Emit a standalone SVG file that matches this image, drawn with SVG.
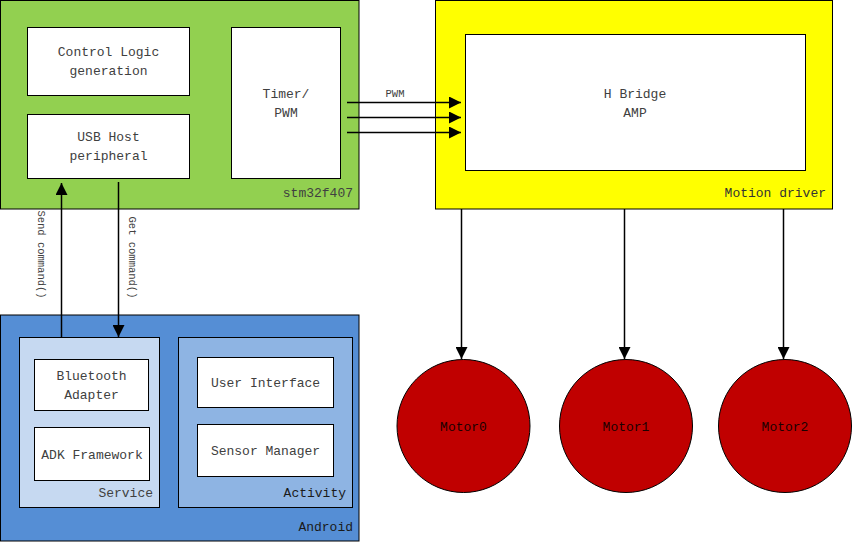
<svg xmlns="http://www.w3.org/2000/svg" width="852" height="542" viewBox="0 0 852 542">
<style>
.box{stroke:#000;stroke-width:1}
.w{fill:#fff}
.t{font-family:"Liberation Mono",monospace;font-size:13px;fill:#404040}
.c{text-anchor:middle}
.r{text-anchor:end}
.s{font-family:"Liberation Mono",monospace;font-size:10.5px;fill:#404040}
.ln{stroke:#000;stroke-width:1.5;fill:none}
</style>
<defs>
<marker id="ah" viewBox="0 0 12 12" refX="12" refY="6" markerWidth="12" markerHeight="12" markerUnits="userSpaceOnUse" orient="auto">
<path d="M0,0 L12,6 L0,12 Z" fill="#000"/>
</marker>
</defs>
<rect width="852" height="542" fill="#fff"/>

<g id="stm32f407">
<rect class="box" x="0.5" y="0.5" width="358.5" height="208.5" fill="#92D050"/>
<text class="t r" x="353" y="197">stm32f407</text>
</g>
<g id="control-logic">
<rect class="box w" x="27.5" y="27.5" width="162" height="68"/>
<text class="t c" x="108.5" y="56">Control Logic</text>
<text class="t c" x="108.5" y="75">generation</text>
</g>
<g id="usb-host">
<rect class="box w" x="27.5" y="114.5" width="162" height="64"/>
<text class="t c" x="108.5" y="141">USB Host</text>
<text class="t c" x="108.5" y="160">peripheral</text>
</g>
<g id="timer-pwm">
<rect class="box w" x="231.5" y="27.5" width="109" height="151"/>
<text class="t c" x="286" y="98">Timer/</text>
<text class="t c" x="286" y="117">PWM</text>
</g>

<g id="motion-driver">
<rect class="box" x="435.5" y="0.5" width="397" height="208.5" fill="#FFFF00"/>
<text class="t r" x="826" y="197" style="fill:#333">Motion driver</text>
</g>
<g id="h-bridge">
<rect class="box w" x="465.5" y="34.5" width="340" height="136"/>
<text class="t c" x="635" y="98">H Bridge</text>
<text class="t c" x="635" y="117">AMP</text>
</g>

<g id="android">
<rect class="box" x="0.5" y="315" width="358.5" height="226" fill="#558ED5"/>
<text class="t r" x="353" y="531" style="fill:#1a1a1a">Android</text>
</g>
<g id="service">
<rect class="box" x="19.5" y="337.5" width="140" height="170" fill="#C6D9F1"/>
<text class="t r" x="153" y="497">Service</text>
</g>
<g id="bluetooth-adapter">
<rect class="box w" x="34.5" y="359.5" width="114" height="51"/>
<text class="t c" x="91.5" y="380">Bluetooth</text>
<text class="t c" x="91.5" y="399">Adapter</text>
</g>
<g id="adk-framework">
<rect class="box w" x="34.5" y="427.5" width="115" height="53"/>
<text class="t c" x="92" y="459">ADK Framework</text>
</g>
<g id="activity">
<rect class="box" x="178.5" y="337.5" width="174" height="170" fill="#8EB4E3"/>
<text class="t r" x="346" y="497" style="fill:#1a1a1a">Activity</text>
</g>
<g id="user-interface">
<rect class="box w" x="197.5" y="357.5" width="136" height="50"/>
<text class="t c" x="265.5" y="387">User Interface</text>
</g>
<g id="sensor-manager">
<rect class="box w" x="197.5" y="424.5" width="136" height="52"/>
<text class="t c" x="265.5" y="455">Sensor Manager</text>
</g>

<g id="motor0">
<circle cx="463.5" cy="426" r="66.5" fill="#C00000" stroke="#000" stroke-width="1"/>
<text class="t c" x="463.5" y="431" style="fill:#1a0000">Motor0</text>
</g>
<g id="motor1">
<circle cx="626" cy="426" r="66.5" fill="#C00000" stroke="#000" stroke-width="1"/>
<text class="t c" x="626" y="431" style="fill:#1a0000">Motor1</text>
</g>
<g id="motor2">
<circle cx="785" cy="426" r="66.5" fill="#C00000" stroke="#000" stroke-width="1"/>
<text class="t c" x="785" y="431" style="fill:#1a0000">Motor2</text>
</g>

<g id="connectors">
<line class="ln" x1="347" y1="102.5" x2="461" y2="102.5" marker-end="url(#ah)"/>
<line class="ln" x1="347" y1="117.5" x2="461" y2="117.5" marker-end="url(#ah)"/>
<line class="ln" x1="347" y1="132.5" x2="461" y2="132.5" marker-end="url(#ah)"/>
<text class="s c" x="395" y="97">PWM</text>

<line class="ln" x1="61.5" y1="337.5" x2="61.5" y2="183" marker-end="url(#ah)"/>
<line class="ln" x1="118.5" y1="182" x2="118.5" y2="337" marker-end="url(#ah)"/>
<text class="s c" transform="translate(38,254.5) rotate(90)">Send command()</text>
<text class="s c" transform="translate(128.5,257.5) rotate(90)">Get command()</text>

<line class="ln" x1="461.5" y1="209" x2="461.5" y2="359" marker-end="url(#ah)"/>
<line class="ln" x1="624.5" y1="209" x2="624.5" y2="359" marker-end="url(#ah)"/>
<line class="ln" x1="783.5" y1="209" x2="783.5" y2="359" marker-end="url(#ah)"/>
</g>
</svg>
